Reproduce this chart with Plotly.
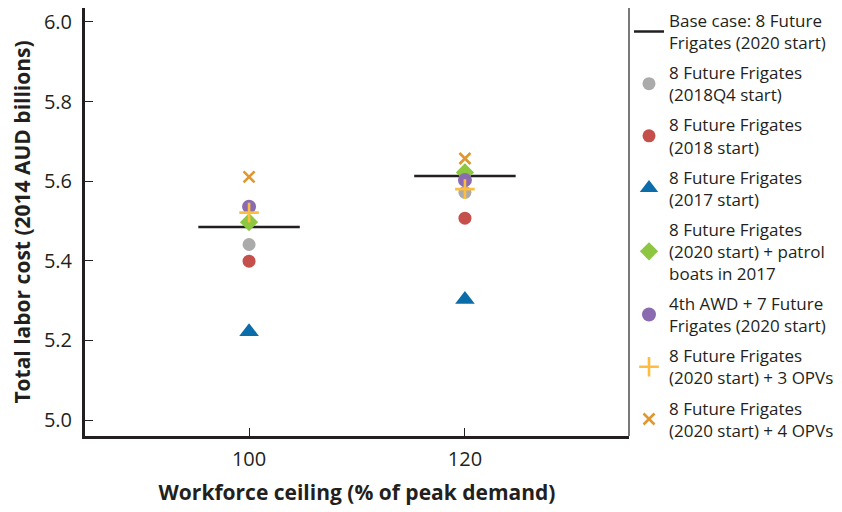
import plotly.graph_objects as go

# workforce ceiling (% of peak demand)
ceilings = [100, 120]

# total labor cost, 2014 AUD billions
base_case = [5.485, 5.613]
ff_2018q4 = [5.441, 5.572]
ff_2018 = [5.399, 5.507]
ff_2017 = [5.222, 5.303]
ff_patrol = [5.497, 5.622]
awd_7ff = [5.536, 5.603]
ff_3opv = [5.521, 5.580]
ff_4opv = [5.611, 5.657]

series = [
    ('8 Future Frigates<br>(2018Q4 start)', ff_2018q4, 'circle', '#ABABAB', 13),
    ('8 Future Frigates<br>(2018 start)', ff_2018, 'circle', '#C5504B', 13),
    ('8 Future Frigates<br>(2017 start)', ff_2017, 'triangle-up', '#0A6DAA', 17),
    ('8 Future Frigates<br>(2020 start) + patrol<br>boats in 2017', ff_patrol, 'diamond', '#8DC640', 14),
    ('4th AWD + 7 Future<br>Frigates (2020 start)', awd_7ff, 'circle', '#8B6BB0', 14),
    ('8 Future Frigates<br>(2020 start) + 3 OPVs', ff_3opv, 'cross-thin', '#FDBE3F', 14),
    ('8 Future Frigates<br>(2020 start) + 4 OPVs', ff_4opv, 'x-thin', '#E0972F', 11),
]

half_width = 4.7  # half length of base-case bar in x units

fig = go.Figure()

# base case drawn as short horizontal bars
for i, (c, v) in enumerate(zip(ceilings, base_case)):
    fig.add_trace(go.Scatter(
        x=[c - half_width, c + half_width], y=[v, v], mode='lines',
        line=dict(color='#231F20', width=2.5),
        name='Base case: 8 Future<br>Frigates (2020 start)',
        legendgroup='base', showlegend=(i == 0)))

for k, (name, vals, sym, col, size) in enumerate(series):
    if sym in ('cross-thin', 'x-thin'):
        mk = dict(symbol=sym, size=size, line=dict(color=col, width=2.6), color=col)
    else:
        mk = dict(symbol=sym, size=size, color=col, line=dict(width=0))
    fig.add_trace(go.Scatter(x=ceilings, y=vals, mode='markers', marker=mk,
                             name=name, legendgroup='g' + str(k)))

font = 'Open Sans, Noto Sans, sans-serif'

# page body adds an 8px margin, so the figure is 8px smaller than the window
fig.update_layout(
    width=834, height=504,
    margin=dict(l=77, r=213, t=0, b=76, autoexpand=False),
    plot_bgcolor='white', paper_bgcolor='white',
    font=dict(family=font, color='#231F20'),
    showlegend=True,
    legend=dict(x=1.0, xanchor='left', y=1.012, yanchor='top',
                font=dict(size=17, color='#231F20'),
                tracegroupgap=5, itemwidth=30, maxheight=500,
                bgcolor='rgba(0,0,0,0)'),
    xaxis=dict(range=[84.8, 135.2], tickvals=ceilings, ticks='inside', ticklen=8,
               tickwidth=1, tickcolor='#231F20', showgrid=False, zeroline=False,
               showline=True, linewidth=3, linecolor='#231F20',
               tickfont=dict(size=20), automargin=False, ticklabelstandoff=3,
               ticklabeloverflow='allow',
               title=dict(text='<b>Workforce ceiling (% of peak demand)</b>',
                          font=dict(size=21), standoff=15)),
    yaxis=dict(range=[4.96, 6.035], tickvals=[5.0, 5.2, 5.4, 5.6, 5.8, 6.0],
               tickformat='.1f', ticks='inside', ticklen=8, tickwidth=1,
               tickcolor='#231F20', showgrid=False, zeroline=False,
               showline=True, linewidth=3, linecolor='#231F20',
               tickfont=dict(size=20), automargin=False, ticklabelstandoff=6,
               ticklabeloverflow='allow',
               title=dict(text='<b>Total labor cost (2014 AUD billions)</b>',
                          font=dict(size=21), standoff=29)),
)

# thin right frame line
fig.add_shape(type='line', xref='paper', yref='paper', x0=1, x1=1, y0=0, y1=1,
              line=dict(color='#231F20', width=1.2))

fig.write_html('out.html')
